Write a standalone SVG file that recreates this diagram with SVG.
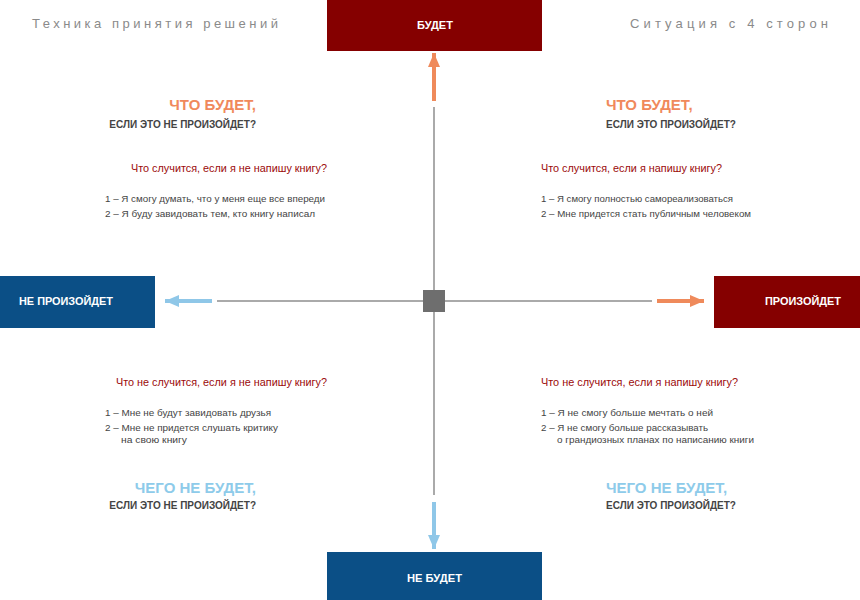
<svg xmlns="http://www.w3.org/2000/svg" width="860" height="600" viewBox="0 0 860 600">
<style>
text{font-family:"Liberation Sans","DejaVu Sans",sans-serif}
.title{font-size:13px;fill:#8a8a8a}
.box-red{fill:#850000}
.box-blue{fill:#0b4f86}
.lbl{font-size:11px;font-weight:bold;fill:#fff}
.h1o{font-size:15px;font-weight:bold;fill:#f0895c}
.h1b{font-size:15px;font-weight:bold;fill:#8ecbea}
.h2{font-size:10px;font-weight:bold;fill:#444}
.q{font-size:11px;fill:#9b0a0a}
.li{font-size:9.5px;fill:#444}
.axis{stroke:#aaaaaa;stroke-width:2;fill:none}
.arr-o{stroke:#ef8a5b;stroke-width:4;fill:none}
.arr-b{stroke:#8fc7e8;stroke-width:4;fill:none}
</style>
<defs>
<marker id="ho" markerUnits="userSpaceOnUse" markerWidth="14" markerHeight="14" viewBox="0 0 14 12" refX="14" refY="6" orient="auto"><path d="M0,0 L14,6 L0,12 Z" fill="#ef8a5b"/></marker>
<marker id="hb" markerUnits="userSpaceOnUse" markerWidth="14" markerHeight="14" viewBox="0 0 14 12" refX="14" refY="6" orient="auto"><path d="M0,0 L14,6 L0,12 Z" fill="#8fc7e8"/></marker>
</defs>
<rect width="860" height="600" fill="#fff"/>
<text class="title" x="32" y="28" textLength="246" lengthAdjust="spacing">Техника принятия решений</text>
<text class="title" x="630" y="28" textLength="198" lengthAdjust="spacing">Ситуация с 4 сторон</text>
<g id="connectors">
<line class="axis" x1="434" y1="107" x2="434" y2="495"/>
<line class="axis" x1="217" y1="301" x2="652" y2="301"/>
<line class="arr-o" x1="434" y1="101" x2="434" y2="53" marker-end="url(#ho)"/>
<line class="arr-b" x1="434" y1="502" x2="434" y2="549" marker-end="url(#hb)"/>
<line class="arr-b" x1="212" y1="301" x2="165" y2="301" marker-end="url(#hb)"/>
<line class="arr-o" x1="657" y1="301" x2="704" y2="301" marker-end="url(#ho)"/>
</g>
<g id="center"><rect x="423" y="290" width="22" height="22" fill="#6e6e6e"/></g>
<g id="node-top"><rect class="box-red" x="327" y="0" width="215" height="51"/><text class="lbl" x="417" y="29" textLength="36" lengthAdjust="spacingAndGlyphs">БУДЕТ</text></g>
<g id="node-bottom"><rect class="box-blue" x="327" y="552" width="215" height="48"/><text class="lbl" x="407" y="582" textLength="55" lengthAdjust="spacingAndGlyphs">НЕ БУДЕТ</text></g>
<g id="node-left"><rect class="box-blue" x="0" y="276" width="155" height="52"/><text class="lbl" x="19" y="305" textLength="94" lengthAdjust="spacingAndGlyphs">НЕ ПРОИЗОЙДЕТ</text></g>
<g id="node-right"><rect class="box-red" x="714" y="276" width="146" height="52"/><text class="lbl" x="765" y="305" textLength="76" lengthAdjust="spacingAndGlyphs">ПРОИЗОЙДЕТ</text></g>
<g id="q-top-left">
<text class="h1o" x="256" y="110" text-anchor="end">ЧТО БУДЕТ,</text>
<text class="h2" x="256" y="128" text-anchor="end">ЕСЛИ ЭТО НЕ ПРОИЗОЙДЕТ?</text>
<text class="q" x="131" y="172" textLength="196" lengthAdjust="spacingAndGlyphs">Что случится, если я не напишу книгу?</text>
<text class="li" x="105" y="202" textLength="220" lengthAdjust="spacingAndGlyphs">1 – Я смогу думать, что у меня еще все впереди</text>
<text class="li" x="105" y="217" textLength="210" lengthAdjust="spacingAndGlyphs">2 – Я буду завидовать тем, кто книгу написал</text>
</g>
<g id="q-top-right">
<text class="h1o" x="606" y="110">ЧТО БУДЕТ,</text>
<text class="h2" x="606" y="128">ЕСЛИ ЭТО ПРОИЗОЙДЕТ?</text>
<text class="q" x="541" y="172" textLength="181" lengthAdjust="spacingAndGlyphs">Что случится, если я напишу книгу?</text>
<text class="li" x="541" y="202" textLength="192" lengthAdjust="spacingAndGlyphs">1 – Я смогу полностью самореализоваться</text>
<text class="li" x="541" y="217" textLength="210" lengthAdjust="spacingAndGlyphs">2 – Мне придется стать публичным человеком</text>
</g>
<g id="q-bottom-left">
<text class="q" x="116" y="386" textLength="211" lengthAdjust="spacingAndGlyphs">Что не случится, если я не напишу книгу?</text>
<text class="li" x="105" y="416" textLength="166" lengthAdjust="spacingAndGlyphs">1 – Мне не будут завидовать друзья</text>
<text class="li" x="105" y="431" textLength="173" lengthAdjust="spacingAndGlyphs">2 – Мне не придется слушать критику</text>
<text class="li" x="121" y="443" textLength="66" lengthAdjust="spacingAndGlyphs">на свою книгу</text>
<text class="h1b" x="256" y="493" text-anchor="end">ЧЕГО НЕ БУДЕТ,</text>
<text class="h2" x="256" y="509" text-anchor="end">ЕСЛИ ЭТО НЕ ПРОИЗОЙДЕТ?</text>
</g>
<g id="q-bottom-right">
<text class="q" x="541" y="386" textLength="197" lengthAdjust="spacingAndGlyphs">Что не случится, если я напишу книгу?</text>
<text class="li" x="541" y="416" textLength="172" lengthAdjust="spacingAndGlyphs">1 – Я не смогу больше мечтать о ней</text>
<text class="li" x="541" y="431" textLength="167" lengthAdjust="spacingAndGlyphs">2 – Я не смогу больше рассказывать</text>
<text class="li" x="557" y="443" textLength="197" lengthAdjust="spacingAndGlyphs">о грандиозных планах по написанию книги</text>
<text class="h1b" x="606" y="493">ЧЕГО НЕ БУДЕТ,</text>
<text class="h2" x="606" y="509">ЕСЛИ ЭТО ПРОИЗОЙДЕТ?</text>
</g>
</svg>
